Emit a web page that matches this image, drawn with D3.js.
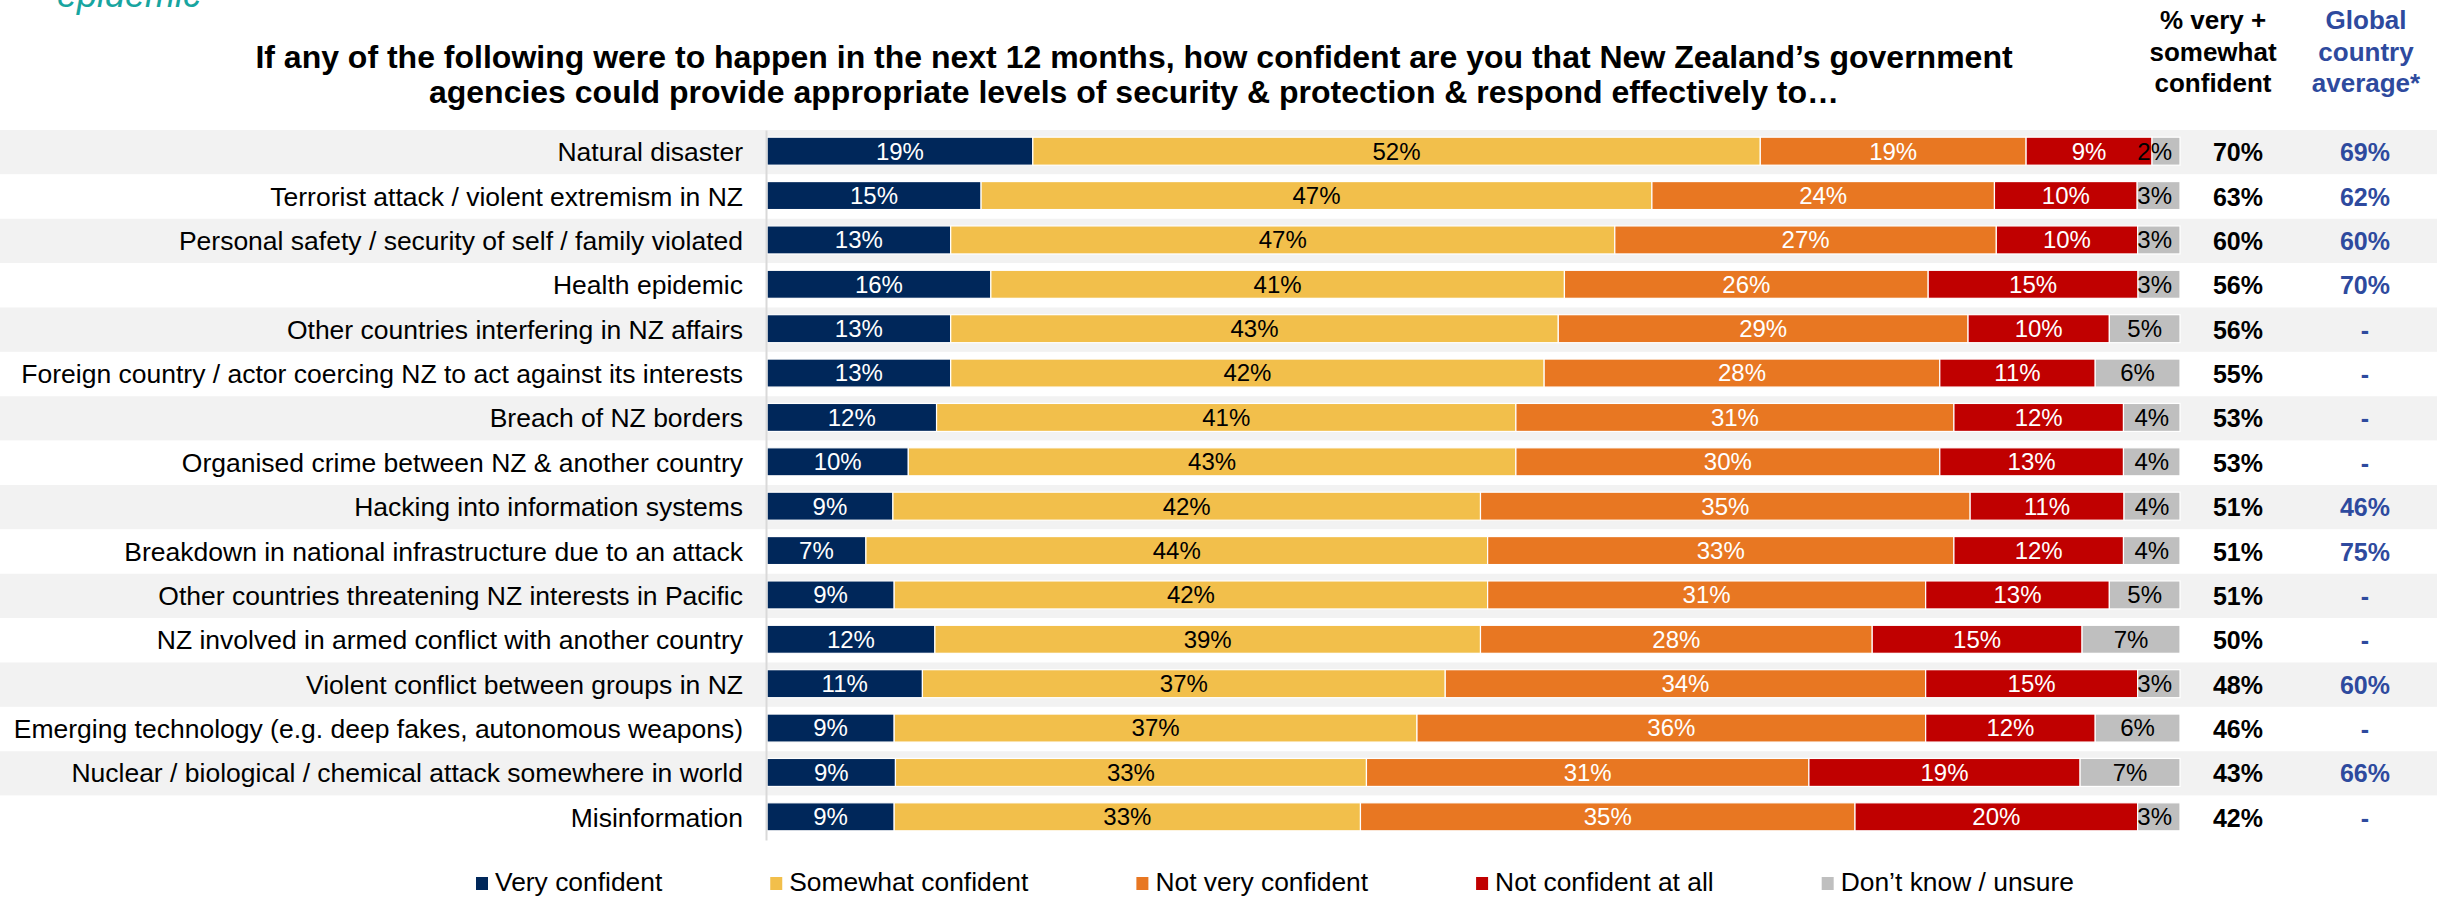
<!DOCTYPE html>
<html>
<head>
<meta charset="utf-8">
<script src="https://cdn.jsdelivr.net/npm/d3@7"></script>
<style>
  html, body { margin: 0; padding: 0; background: #ffffff; }
  svg { display: block; font-family: "Liberation Sans", Arial, Helvetica, sans-serif; }
</style>
</head>
<body>
<svg id="chart" width="2446" height="897"></svg>
<script>
// Survey items, top to bottom
const categories = [
  "Natural disaster",
  "Terrorist attack / violent extremism in NZ",
  "Personal safety / security of self / family violated",
  "Health epidemic",
  "Other countries interfering in NZ affairs",
  "Foreign country / actor coercing NZ to act against its interests",
  "Breach of NZ borders",
  "Organised crime between NZ & another country",
  "Hacking into information systems",
  "Breakdown in national infrastructure due to an attack",
  "Other countries threatening NZ interests in Pacific",
  "NZ involved in armed conflict with another country",
  "Violent conflict between groups in NZ",
  "Emerging technology (e.g. deep fakes, autonomous weapons)",
  "Nuclear / biological / chemical attack somewhere in world",
  "Misinformation"
];

// Response shares (%)
const veryConfident      = [19, 15, 13, 16, 13, 13, 12, 10,  9,  7,  9, 12, 11,  9,  9,  9];
const somewhatConfident  = [52, 47, 47, 41, 43, 42, 41, 43, 42, 44, 42, 39, 37, 37, 33, 33];
const notVeryConfident   = [19, 24, 27, 26, 29, 28, 31, 30, 35, 33, 31, 28, 34, 36, 31, 35];
const notConfidentAtAll  = [ 9, 10, 10, 15, 10, 11, 12, 13, 11, 12, 13, 15, 15, 12, 19, 20];
const dontKnow           = [ 2,  3,  3,  3,  5,  6,  4,  4,  4,  4,  5,  7,  3,  6,  7,  3];

// Summary columns
const veryPlusSomewhat   = [70, 63, 60, 56, 56, 55, 53, 53, 51, 51, 51, 50, 48, 46, 43, 42];
const globalAverage      = [69, 62, 60, 70, null, null, null, null, 46, 75, null, null, 60, null, 66, null];

const seriesNames = ["Very confident", "Somewhat confident", "Not very confident", "Not confident at all", "Don\u2019t know / unsure"];
const seriesValues = [veryConfident, somewhatConfident, notVeryConfident, notConfidentAtAll, dontKnow];
const seriesColors = ["#00275A", "#F2BF4B", "#E87722", "#C00000", "#BFBFBF"];
const labelColors  = ["#ffffff", "#000000", "#ffffff", "#ffffff", "#000000"];

const titleLines = [
  "If any of the following were to happen in the next 12 months, how confident are you that New Zealand\u2019s government",
  "agencies could provide appropriate levels of security & protection & respond effectively to\u2026"
];
const headerTotal  = ["% very +", "somewhat", "confident"];
const headerGlobal = ["Global", "country", "average*"];

// ---- build table ----
const table = categories.map((c, i) => {
  const row = { category: c };
  seriesNames.forEach((s, k) => { row[s] = seriesValues[k][i]; });
  return row;
});

const svg = d3.select("#chart");

const x = d3.scaleLinear().domain([0, 1]).range([767, 2180]);
const y = d3.scaleBand().domain(categories).range([130, 840]);
const color = d3.scaleOrdinal().domain(seriesNames).range(seriesColors);
const textColor = d3.scaleOrdinal().domain(seriesNames).range(labelColors);

const barH = 28;
const barTop = d => y(d) + (y.bandwidth() - barH) / 2 - 1;
const rowMid = d => y(d) + y.bandwidth() / 2;

// alternating row bands
svg.append("g").selectAll("rect")
  .data(categories)
  .join("rect")
  .attr("x", 0)
  .attr("y", d => y(d))
  .attr("width", 2437)
  .attr("height", y.bandwidth())
  .attr("fill", (d, i) => i % 2 === 0 ? "#F2F2F2" : "#FFFFFF");

// stacked segments, each row normalised to 100%
const stacked = d3.stack().keys(seriesNames).offset(d3.stackOffsetExpand)(table);

const layers = svg.append("g").selectAll("g")
  .data(stacked)
  .join("g")
  .attr("fill", d => color(d.key));

layers.selectAll("rect")
  .data(d => d)
  .join("rect")
  .attr("x", d => x(d[0]))
  .attr("y", d => barTop(d.data.category))
  .attr("width", d => x(d[1]) - x(d[0]))
  .attr("height", barH)
  .attr("stroke", "#ffffff")
  .attr("stroke-width", 1.2);

// segment value labels
const labelSize = 24;
const labelRight = x(1) - 8;
const labelLayer = svg.append("g")
  .attr("font-size", labelSize);

stacked.forEach(layer => {
  layer.forEach(d => {
    const v = d.data[layer.key];
    const t = labelLayer.append("text")
      .attr("text-anchor", "middle")
      .attr("fill", textColor(layer.key))
      .attr("y", rowMid(d.data.category) + labelSize * 0.35 - 1)
      .text(v + "%");
    const w = t.node().getComputedTextLength();
    const cx = (x(d[0]) + x(d[1])) / 2;
    t.attr("x", Math.min(cx, labelRight - w / 2));
  });
});

// category axis
const axis = svg.append("g")
  .attr("transform", "translate(766,0)")
  .call(d3.axisLeft(y).tickSize(0).tickSizeOuter(0).tickPadding(23));
axis.select(".domain").attr("stroke", "#D9D9D9").attr("stroke-width", 2);
axis.selectAll(".tick text")
  .attr("font-size", 26.5)
  .attr("font-family", "\"Liberation Sans\", Arial, sans-serif")
  .attr("fill", "#000000")
  .attr("dy", "0.34em");

// summary columns
svg.append("g").selectAll("text")
  .data(categories)
  .join("text")
  .attr("x", 2238)
  .attr("y", d => rowMid(d) + 9)
  .attr("text-anchor", "middle")
  .attr("font-size", 25)
  .attr("font-weight", "bold")
  .attr("fill", "#000000")
  .text((d, i) => veryPlusSomewhat[i] + "%");

svg.append("g").selectAll("text")
  .data(categories)
  .join("text")
  .attr("x", 2365)
  .attr("y", d => rowMid(d) + 9)
  .attr("text-anchor", "middle")
  .attr("font-size", 25)
  .attr("font-weight", "bold")
  .attr("fill", "#2E4A9E")
  .text((d, i) => globalAverage[i] == null ? "-" : globalAverage[i] + "%");

// column headers
svg.append("g").selectAll("text")
  .data(headerTotal)
  .join("text")
  .attr("x", 2213)
  .attr("y", (d, i) => 29 + i * 31.5)
  .attr("text-anchor", "middle")
  .attr("font-size", 26)
  .attr("font-weight", "bold")
  .attr("fill", "#000000")
  .text(d => d);

svg.append("g").selectAll("text")
  .data(headerGlobal)
  .join("text")
  .attr("x", 2366)
  .attr("y", (d, i) => 29 + i * 31.5)
  .attr("text-anchor", "middle")
  .attr("font-size", 26)
  .attr("font-weight", "bold")
  .attr("fill", "#2E4A9E")
  .text(d => d);

// title
svg.append("g").selectAll("text")
  .data(titleLines)
  .join("text")
  .attr("x", 1134)
  .attr("y", (d, i) => 68 + i * 35)
  .attr("text-anchor", "middle")
  .attr("font-size", 32)
  .attr("font-weight", "bold")
  .attr("fill", "#000000")
  .text(d => d);

// section caption running off the top edge
svg.append("text")
  .attr("x", 57)
  .attr("y", 7)
  .attr("font-size", 36)
  .attr("font-style", "italic")
  .attr("fill", "#17A5A0")
  .text("epidemic");

// legend
const legend = svg.append("g");
let lx = 476;
seriesNames.forEach(name => {
  legend.append("rect")
    .attr("x", lx).attr("y", 877)
    .attr("width", 12).attr("height", 13)
    .attr("fill", color(name));
  const t = legend.append("text")
    .attr("x", lx + 19).attr("y", 891)
    .attr("font-size", 26.4)
    .attr("fill", "#000000")
    .text(name);
  lx += 19 + t.node().getComputedTextLength() + 108;
});
</script>
</body>
</html>
